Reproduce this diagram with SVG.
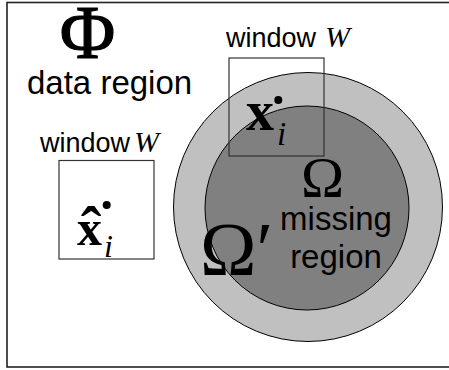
<svg xmlns="http://www.w3.org/2000/svg" width="449" height="370" viewBox="0 0 449 370">
  <style>
    .sans { font-family: "Liberation Sans", Arial, sans-serif; fill: #000; }
    .serif { font-family: "Liberation Serif", "Times New Roman", serif; fill: #000; }
    .it { font-style: italic; }
    .bold { font-weight: bold; }
    .win { fill: none; stroke: #333; stroke-width: 1.2; }
  </style>
  <rect width="449" height="370" fill="#fff"/>
  <!-- frame of the data region -->
  <g id="frame">
    <rect x="7" y="2.5" width="460" height="364.5" fill="none" stroke="#222" stroke-width="1.6"/>
  </g>
  <!-- band around the hole and the hole itself -->
  <g id="omega-prime-ring">
    <circle cx="308" cy="207" r="134.5" fill="#c0c0c0" stroke="#000" stroke-width="1"/>
  </g>
  <g id="omega-hole">
    <circle cx="307" cy="208" r="102" fill="#808080" stroke="#000" stroke-width="1"/>
  </g>
  <g id="phi-label">
    <text class="serif" x="87.5" y="58" font-size="76" text-anchor="middle" stroke="#000" stroke-width="1.2">Φ</text>
    <text class="sans" x="27" y="94" font-size="33">data region</text>
  </g>
  <!-- window around the known patch -->
  <g id="window-left">
    <text class="sans" x="40" y="151.5" font-size="27">window</text>
    <text class="serif it" x="134" y="151.5" font-size="30">W</text>
    <rect class="win" x="59" y="160.5" width="95" height="98.5" stroke="#555" stroke-width="1.5"/>
    <text class="serif bold" x="77" y="245" font-size="50">x</text>
    <text class="serif bold" x="91" y="250" font-size="62" text-anchor="middle">ˆ</text>
    <circle cx="106.7" cy="205" r="4"/>
    <text class="serif it" x="104" y="257" font-size="32">i</text>
  </g>
  <!-- window around the target patch -->
  <g id="window-top">
    <text class="sans" x="226" y="47" font-size="27">window</text>
    <text class="serif it" x="325" y="47" font-size="30">W</text>
    <rect class="win" x="229" y="58" width="95" height="98"/>
    <text class="serif bold" x="246" y="130" font-size="56">x</text>
    <circle cx="278.3" cy="100" r="4"/>
    <text class="serif it" x="277" y="145" font-size="33">i</text>
  </g>
  <g id="hole-labels">
    <text class="serif" x="322.5" y="196.7" font-size="58" text-anchor="middle">Ω</text>
    <text class="sans" x="336" y="230" font-size="33" text-anchor="middle">missing</text>
    <text class="sans" x="336" y="268.3" font-size="33" text-anchor="middle">region</text>
    <text class="serif" x="200" y="275" font-size="76">Ω′</text>
  </g>
</svg>
